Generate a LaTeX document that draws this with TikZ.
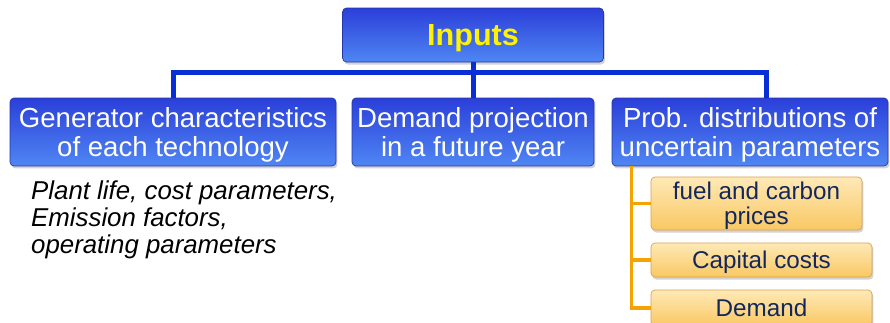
\documentclass[tikz,border=0pt]{standalone}
\usepackage{fontspec}
\setmainfont{Liberation Sans}
\usetikzlibrary{%
    positioning,
    calc,
    shadows
}
\definecolor{boxblue}{HTML}{2B3FD9}
\definecolor{boxbluelight}{HTML}{4F86F3}
\definecolor{boxblueedge}{HTML}{2436A8}
\definecolor{lineblue}{HTML}{0A2ED6}
\definecolor{boxorange}{HTML}{F9C863}
\definecolor{boxorangelight}{HTML}{FEE9B6}
\definecolor{boxorangeedge}{HTML}{DDA04A}
\definecolor{lineorange}{HTML}{F4A300}
\definecolor{navytext}{HTML}{13275C}

\begin{document}
\begin{tikzpicture}[
      x=0.02cm, y=-0.02cm,
      elem/.style={rectangle, rounded corners=0.08cm, align=center,
                   inner sep=0pt, text depth=0pt, drop shadow={opacity=0.35,
                   shadow xshift=0.03cm, shadow yshift=-0.05cm}},
      bluebox/.style={elem, draw=boxblueedge, top color=boxblue,
                      bottom color=boxbluelight, text=white,
                      font=\fontsize{15.7}{17}\selectfont},
      topbox/.style={bluebox, text=yellow,
                     font=\fontsize{17.4}{19}\selectfont\bfseries},
      orangebox/.style={elem, draw=boxorangeedge, top color=boxorangelight,
                        bottom color=boxorange, text=navytext,
                        font=\fontsize{13.8}{14.2}\selectfont},
      blueline/.style={lineblue, line width=0.1cm},
      orangeline/.style={lineorange, line width=0.07cm}
    ]
      \useasboundingbox (0,0) rectangle (890,322);

      \node[topbox, minimum width=5.22cm, minimum height=1.08cm]
        (inputs) at (473,35) {Inputs};

      \node[bluebox, minimum width=6.52cm, minimum height=1.36cm]
        (gen_char) at (173,132) {Generator characteristics\\of each technology};
      \node[bluebox, minimum width=4.84cm, minimum height=1.36cm]
        (demand_proj) at (473,132) {Demand projection\\in a future year};
      \node[bluebox, minimum width=5.52cm, minimum height=1.36cm]
        (prob_dist) at (750,132) {Prob. distributions of\\uncertain parameters};

      \node[anchor=west, align=left,
        font=\fontsize{14.7}{15.3}\selectfont\itshape]
        (gen_notes) at (25,220)
        {Plant life, cost parameters,\\Emission factors,\\operating parameters};

      \node[orangebox, minimum width=4.22cm, minimum height=1.06cm]
        (fuel_price) at (756.5,203.5) {fuel and carbon\\prices};
      \node[orangebox, minimum width=4.42cm, minimum height=0.68cm]
        (capital_cost) at (761.5,260) {Capital costs};
      \node[orangebox, minimum width=4.42cm, minimum height=0.72cm]
        (demand_unc) at (761.5,308) {Demand};

      % blue tree
      \coordinate (bus) at (473,72);
      \draw[blueline] (inputs.south) -- (demand_proj.north);
      \draw[blueline] (gen_char.north) |- (bus)
        -| ($(prob_dist.north)+(16,0)$);

      % orange tree
      \coordinate (trunk) at ($(prob_dist.south west)+(20,0)$);
      \draw[orangeline] (trunk) |- (demand_unc.west);
      \draw[orangeline] (trunk |- fuel_price.west) -- (fuel_price.west);
      \draw[orangeline] (trunk |- capital_cost.west) -- (capital_cost.west);
    \end{tikzpicture}
\end{document}
